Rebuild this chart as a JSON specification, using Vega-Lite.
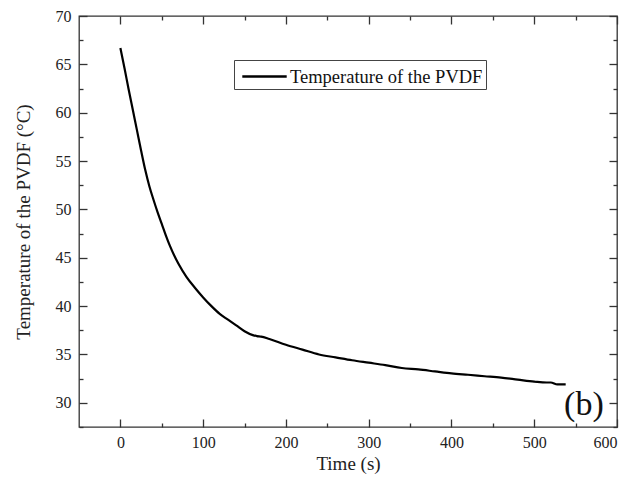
{
  "$schema": "https://vega.github.io/schema/vega-lite/v6.json",
  "width": 538,
  "height": 411,
  "autosize": "none",
  "padding": {"left": 79, "top": 16, "right": 10, "bottom": 56},
  "background": "white",
  "config": {
    "font": "Liberation Serif",
    "view": {"stroke": "#333333", "strokeWidth": 1.3},
    "axis": {"grid": false, "domain": false, "labelFont": "Liberation Serif", "titleFont": "Liberation Serif", "labelColor": "#222222", "titleColor": "#222222", "tickColor": "#333333", "titleFontWeight": "normal", "labelFontSize": 16, "titleFontSize": 19}
  },
  "datasets": {
    "temp": [
      {"t": 0, "T": 66.7}, {"t": 5, "T": 64.6}, {"t": 10, "T": 62.4}, {"t": 15, "T": 60.3},
      {"t": 20, "T": 58.2}, {"t": 25, "T": 56.1}, {"t": 30, "T": 54.1}, {"t": 35, "T": 52.4},
      {"t": 40, "T": 51.0}, {"t": 45, "T": 49.7}, {"t": 50, "T": 48.5}, {"t": 55, "T": 47.3},
      {"t": 60, "T": 46.2}, {"t": 70, "T": 44.4}, {"t": 80, "T": 43.0}, {"t": 90, "T": 41.9},
      {"t": 100, "T": 40.9}, {"t": 110, "T": 40.0}, {"t": 120, "T": 39.2}, {"t": 130, "T": 38.6},
      {"t": 140, "T": 38.0}, {"t": 150, "T": 37.4}, {"t": 160, "T": 37.0}, {"t": 165, "T": 36.9},
      {"t": 170, "T": 36.85}, {"t": 180, "T": 36.6}, {"t": 200, "T": 36.0}, {"t": 220, "T": 35.5},
      {"t": 240, "T": 35.0}, {"t": 260, "T": 34.7}, {"t": 280, "T": 34.4}, {"t": 300, "T": 34.15},
      {"t": 320, "T": 33.9}, {"t": 340, "T": 33.6}, {"t": 360, "T": 33.45}, {"t": 380, "T": 33.25},
      {"t": 400, "T": 33.05}, {"t": 420, "T": 32.9}, {"t": 440, "T": 32.75}, {"t": 460, "T": 32.6},
      {"t": 480, "T": 32.4}, {"t": 500, "T": 32.2}, {"t": 515, "T": 32.1}, {"t": 520, "T": 32.1},
      {"t": 528, "T": 31.9}, {"t": 538, "T": 31.9}
    ],
    "tag": [{"t": 560, "T": 29.8, "label": "(b)"}]
  },
  "layer": [
    {
      "data": {"name": "temp"},
      "transform": [{"calculate": "'Temperature of the PVDF'", "as": "series"}],
      "mark": {"type": "line", "strokeWidth": 2.2, "interpolate": "monotone"},
      "encoding": {
        "x": {"field": "t", "type": "quantitative", "scale": {"domain": [-50, 600], "nice": false, "zero": false},
          "axis": {"orient": "bottom", "title": "Time (s)", "values": [0, 50, 100, 150, 200, 250, 300, 350, 400, 450, 500, 550, 600],
            "tickSize": {"condition": {"test": "datum.value % 100 === 0", "value": -8}, "value": -4},
            "tickWidth": 1.3,
            "labelExpr": "datum.value % 100 === 0 ? datum.label : ''",
            "labelPadding": 15, "titlePadding": 4}},
        "y": {"field": "T", "type": "quantitative", "scale": {"domain": [27.5, 70], "nice": false, "zero": false},
          "axis": {"orient": "left", "title": "Temperature of the PVDF (°C)", "values": [27.5, 30, 32.5, 35, 37.5, 40, 42.5, 45, 47.5, 50, 52.5, 55, 57.5, 60, 62.5, 65, 67.5, 70],
            "tickSize": {"condition": {"test": "datum.value % 5 === 0", "value": -8}, "value": -4},
            "tickWidth": 1.3,
            "labelExpr": "datum.value % 5 === 0 ? datum.label : ''",
            "labelPadding": 16, "titlePadding": 22}},
        "color": {"field": "series", "type": "nominal", "scale": {"range": ["#000000"]},
          "legend": {"title": null, "orient": "none", "legendX": 155, "legendY": 44, "symbolType": "M-1.85,0H1.85", "symbolSize": 576, "symbolStrokeWidth": 2.5, "symbolOffset": 14,
            "labelFont": "Liberation Serif", "labelFontSize": 18.5, "labelColor": "#111111", "labelLimit": 400, "strokeColor": "#444444", "padding": 3, "labelOffset": 12}}
      }
    },
    {
      "data": {"name": "tag"},
      "mark": {"type": "text", "fontSize": 34, "font": "Liberation Serif", "color": "#111111", "align": "center", "baseline": "middle"},
      "encoding": {
        "x": {"field": "t", "type": "quantitative", "scale": {"domain": [-50, 600], "nice": false, "zero": false},
          "axis": {"orient": "top", "title": null, "values": [0, 50, 100, 150, 200, 250, 300, 350, 400, 450, 500, 550, 600],
            "tickSize": {"condition": {"test": "datum.value % 100 === 0", "value": -8}, "value": -4},
            "tickWidth": 1.3, "labels": false}},
        "y": {"field": "T", "type": "quantitative", "scale": {"domain": [27.5, 70], "nice": false, "zero": false},
          "axis": {"orient": "right", "title": null, "values": [27.5, 30, 32.5, 35, 37.5, 40, 42.5, 45, 47.5, 50, 52.5, 55, 57.5, 60, 62.5, 65, 67.5, 70],
            "tickSize": {"condition": {"test": "datum.value % 5 === 0", "value": -8}, "value": -4},
            "tickWidth": 1.3, "labels": false}},
        "text": {"field": "label"}
      }
    }
  ],
  "resolve": {"axis": {"x": "independent", "y": "independent"}}
}
